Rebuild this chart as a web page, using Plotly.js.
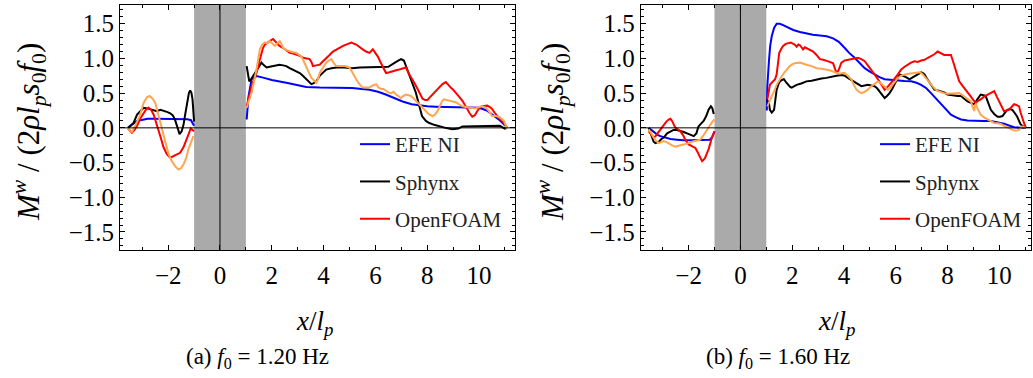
<!DOCTYPE html>
<html>
<head>
<meta charset="utf-8">
<script src="https://cdn.plot.ly/plotly-3.0.1.min.js"></script>
<style>html,body{margin:0;padding:0;background:#fff;}#plot{width:1033px;height:378px;}</style>
</head>
<body>
<div id="plot"></div>
<script>
// ---------- data: [x/l_p, M^w/(2 rho l_p s0 f0)] ----------
// Panel (a) f0 = 1.20 Hz
const a_efe_left = [[-3.55,0],[-3.4,0.05],[-3.2,0.10],[-3.0,0.12],[-2.8,0.13],[-2.5,0.13],[-2.0,0.13],[-1.5,0.13],[-1.25,0.125],[-1.12,0.11],[-1.05,0.07],[-1.0,0.03]];
const a_efe_right = [[1.03,0.12],[1.1,0.45],[1.22,0.70],[1.41,0.745],[1.7,0.72],[2.0,0.69],[2.56,0.65],[3.0,0.61],[3.33,0.59],[3.85,0.58],[4.5,0.578],[5.1,0.575],[5.77,0.55],[6.1,0.52],[6.4,0.48],[6.7,0.43],[7.05,0.38],[7.4,0.34],[7.7,0.32],[8.0,0.31],[8.33,0.305],[9.0,0.30],[9.6,0.30],[10.0,0.29],[10.3,0.25],[10.5,0.19],[10.8,0.11],[11.05,0.02]];
const a_sph_left = [[-3.55,0],[-3.35,0.06],[-3.2,0.19],[-3.05,0.26],[-2.95,0.29],[-2.8,0.28],[-2.69,0.27],[-2.55,0.25],[-2.44,0.24],[-2.3,0.26],[-2.18,0.25],[-2.05,0.23],[-1.92,0.21],[-1.82,0.18],[-1.73,0.11],[-1.64,0.0],[-1.56,-0.09],[-1.48,-0.05],[-1.41,0.04],[-1.34,0.2],[-1.28,0.36],[-1.2,0.5],[-1.15,0.54],[-1.1,0.5],[-1.06,0.41],[-1.0,0.09]];
const a_sph_right = [[1.03,0.89],[1.08,0.75],[1.13,0.67],[1.2,0.70],[1.3,0.76],[1.41,0.84],[1.5,0.90],[1.6,0.94],[1.7,0.90],[1.8,0.87],[1.92,0.88],[2.05,0.89],[2.18,0.90],[2.3,0.91],[2.44,0.90],[2.56,0.89],[2.69,0.86],[2.82,0.84],[2.95,0.81],[3.08,0.79],[3.2,0.75],[3.33,0.70],[3.45,0.66],[3.53,0.63],[3.6,0.64],[3.72,0.67],[3.85,0.75],[3.98,0.80],[4.1,0.84],[4.3,0.86],[4.5,0.87],[4.8,0.87],[5.1,0.86],[5.4,0.87],[5.77,0.87],[6.15,0.87],[6.5,0.88],[6.8,0.95],[6.99,0.99],[7.1,0.97],[7.18,0.89],[7.28,0.80],[7.37,0.72],[7.46,0.62],[7.56,0.51],[7.7,0.31],[7.8,0.17],[7.95,0.10],[8.08,0.07],[8.3,0.04],[8.46,0.02],[8.7,0.0],[8.97,-0.02],[9.2,-0.01],[9.36,0.02],[9.6,0.02],[10.0,0.03],[10.3,0.03],[10.5,0.02],[10.8,0.03],[11.0,-0.01],[11.08,0.0]];
const a_ofo_left = [[-3.55,-0.01],[-3.4,-0.07],[-3.3,-0.03],[-3.2,0.03],[-3.08,0.13],[-2.95,0.22],[-2.85,0.27],[-2.76,0.29],[-2.66,0.26],[-2.56,0.19],[-2.47,0.09],[-2.37,-0.02],[-2.28,-0.15],[-2.18,-0.28],[-2.05,-0.38],[-1.92,-0.43],[-1.8,-0.41],[-1.67,-0.38],[-1.54,-0.36],[-1.41,-0.28],[-1.28,-0.17],[-1.2,-0.08],[-1.13,-0.01],[-1.05,-0.03],[-1.0,-0.05]];
const a_ofo_right = [[1.03,0.31],[1.12,0.45],[1.22,0.60],[1.32,0.70],[1.41,0.79],[1.5,0.93],[1.6,1.08],[1.66,1.15],[1.73,1.20],[1.82,1.23],[1.92,1.25],[2.05,1.28],[2.18,1.23],[2.3,1.18],[2.44,1.15],[2.56,1.11],[2.69,1.08],[2.82,1.07],[2.95,1.06],[3.08,1.04],[3.2,1.01],[3.33,1.00],[3.46,0.99],[3.53,0.95],[3.59,0.89],[3.72,0.90],[3.85,0.91],[3.98,0.96],[4.1,1.01],[4.23,1.05],[4.36,1.10],[4.49,1.13],[4.62,1.15],[4.75,1.18],[4.87,1.20],[5.07,1.23],[5.26,1.20],[5.38,1.16],[5.51,1.13],[5.64,1.10],[5.77,1.08],[5.9,1.13],[6.0,1.08],[6.09,1.03],[6.18,0.96],[6.28,0.89],[6.41,0.79],[6.54,0.80],[6.67,0.82],[6.8,0.83],[6.92,0.84],[7.05,0.85],[7.18,0.87],[7.31,0.77],[7.4,0.72],[7.5,0.65],[7.6,0.58],[7.7,0.51],[7.82,0.42],[7.92,0.40],[8.01,0.40],[8.1,0.44],[8.2,0.48],[8.3,0.51],[8.4,0.55],[8.5,0.59],[8.59,0.63],[8.72,0.66],[8.8,0.62],[8.91,0.58],[9.0,0.55],[9.1,0.51],[9.23,0.45],[9.36,0.39],[9.45,0.33],[9.55,0.27],[9.64,0.21],[9.74,0.16],[9.84,0.18],[9.93,0.24],[10.03,0.29],[10.13,0.31],[10.22,0.32],[10.32,0.32],[10.42,0.30],[10.51,0.27],[10.6,0.22],[10.7,0.17],[10.8,0.13],[10.9,0.10],[11.0,0.05],[11.08,0.01]];
const a_alt_left = [[-3.55,-0.01],[-3.4,-0.06],[-3.25,0.05],[-3.1,0.17],[-2.95,0.36],[-2.82,0.44],[-2.72,0.46],[-2.6,0.42],[-2.5,0.36],[-2.4,0.22],[-2.31,0.07],[-2.2,-0.08],[-2.12,-0.21],[-2.0,-0.36],[-1.86,-0.48],[-1.72,-0.56],[-1.6,-0.60],[-1.5,-0.58],[-1.41,-0.53],[-1.3,-0.43],[-1.22,-0.31],[-1.12,-0.2],[-1.03,-0.12]];
const a_alt_right = [[1.03,0.29],[1.12,0.38],[1.22,0.51],[1.32,0.68],[1.41,0.84],[1.54,1.13],[1.63,1.2],[1.73,1.23],[1.82,1.22],[1.92,1.25],[2.02,1.22],[2.12,1.18],[2.22,1.22],[2.31,1.25],[2.38,1.2],[2.44,1.15],[2.56,1.12],[2.69,1.1],[2.82,1.09],[2.95,1.08],[3.05,1.06],[3.14,1.03],[3.22,0.97],[3.33,0.89],[3.43,0.80],[3.53,0.72],[3.62,0.68],[3.72,0.65],[3.8,0.72],[3.85,0.79],[3.98,0.87],[4.1,0.94],[4.2,0.97],[4.3,0.99],[4.4,0.93],[4.49,0.89],[4.65,0.89],[4.81,0.89],[5.0,0.87],[5.13,0.78],[5.26,0.70],[5.38,0.63],[5.51,0.58],[5.64,0.58],[5.77,0.58],[5.9,0.61],[6.03,0.63],[6.12,0.58],[6.22,0.56],[6.31,0.56],[6.41,0.53],[6.5,0.51],[6.6,0.50],[6.7,0.52],[6.8,0.48],[6.9,0.45],[6.99,0.43],[7.08,0.46],[7.18,0.48],[7.28,0.47],[7.37,0.46],[7.46,0.43],[7.56,0.39],[7.66,0.35],[7.76,0.31],[7.85,0.27],[7.95,0.24],[8.05,0.2],[8.2,0.17],[8.3,0.19],[8.4,0.24],[8.5,0.32],[8.58,0.39],[8.65,0.41],[8.75,0.40],[8.85,0.39],[8.97,0.38],[9.1,0.37],[9.23,0.34],[9.36,0.31],[9.5,0.30],[9.62,0.29],[9.75,0.28],[9.87,0.28],[10.0,0.30],[10.13,0.31],[10.22,0.30],[10.32,0.27],[10.42,0.22],[10.51,0.17],[10.64,0.17],[10.77,0.16],[10.87,0.13],[10.96,0.10],[11.03,0.04],[11.08,-0.01]];

// Panel (b) f0 = 1.60 Hz
const b_efe_left = [[-3.54,0],[-3.45,-0.03],[-3.35,-0.06],[-3.2,-0.10],[-3.09,-0.12],[-2.9,-0.14],[-2.7,-0.16],[-2.45,-0.17],[-2.19,-0.18],[-1.9,-0.18],[-1.68,-0.18],[-1.45,-0.18],[-1.29,-0.18],[-1.18,-0.17],[-1.1,-0.14],[-1.04,-0.09],[-1.0,-0.05]];
const b_efe_right = [[1.02,0.25],[1.04,0.6],[1.1,0.95],[1.15,1.18],[1.21,1.32],[1.3,1.44],[1.4,1.50],[1.52,1.50],[1.65,1.48],[1.85,1.44],[2.04,1.41],[2.3,1.38],[2.55,1.36],[2.8,1.34],[3.07,1.33],[3.33,1.32],[3.58,1.29],[3.8,1.24],[4.03,1.15],[4.2,1.08],[4.41,1.01],[4.6,0.93],[4.8,0.86],[5.0,0.81],[5.18,0.77],[5.37,0.73],[5.57,0.70],[5.8,0.69],[6.08,0.68],[6.33,0.675],[6.59,0.67],[6.8,0.65],[6.98,0.62],[7.18,0.57],[7.36,0.50],[7.55,0.42],[7.75,0.34],[7.95,0.26],[8.13,0.19],[8.33,0.15],[8.52,0.12],[8.77,0.105],[9.03,0.10],[9.35,0.10],[9.67,0.10],[9.93,0.08],[10.18,0.06],[10.4,0.03],[10.57,0.01],[10.8,0.0],[11.02,0.0]];
const b_sph_left = [[-3.54,0],[-3.45,-0.1],[-3.35,-0.2],[-3.28,-0.22],[-3.15,-0.2],[-3.05,-0.16],[-2.96,-0.14],[-2.83,-0.08],[-2.7,-0.05],[-2.58,-0.03],[-2.45,-0.03],[-2.32,-0.04],[-2.19,-0.06],[-2.06,-0.08],[-1.93,-0.10],[-1.8,-0.12],[-1.7,-0.08],[-1.62,0.02],[-1.52,0.06],[-1.42,0.10],[-1.32,0.17],[-1.23,0.26],[-1.14,0.31],[-1.08,0.28],[-1.03,0.2]];
const b_sph_right = [[1.02,0.41],[1.06,0.38],[1.1,0.36],[1.14,0.26],[1.21,0.22],[1.3,0.26],[1.36,0.42],[1.4,0.55],[1.47,0.63],[1.53,0.67],[1.6,0.69],[1.68,0.70],[1.76,0.66],[1.85,0.62],[1.92,0.59],[1.98,0.58],[2.08,0.60],[2.17,0.62],[2.35,0.64],[2.55,0.67],[2.75,0.68],[2.94,0.70],[3.13,0.71],[3.32,0.72],[3.52,0.74],[3.71,0.75],[3.9,0.76],[4.03,0.75],[4.15,0.72],[4.28,0.69],[4.41,0.65],[4.54,0.62],[4.67,0.60],[4.8,0.61],[4.92,0.62],[5.05,0.61],[5.18,0.60],[5.28,0.57],[5.37,0.53],[5.47,0.47],[5.57,0.43],[5.66,0.46],[5.76,0.50],[5.86,0.56],[5.95,0.62],[6.05,0.70],[6.14,0.77],[6.24,0.76],[6.34,0.74],[6.44,0.72],[6.53,0.70],[6.62,0.72],[6.72,0.74],[6.85,0.77],[6.98,0.80],[7.05,0.79],[7.11,0.77],[7.2,0.71],[7.3,0.65],[7.4,0.59],[7.49,0.55],[7.62,0.54],[7.75,0.53],[7.87,0.51],[8.0,0.48],[8.13,0.47],[8.26,0.46],[8.39,0.46],[8.52,0.46],[8.65,0.42],[8.77,0.38],[8.9,0.36],[9.03,0.34],[9.15,0.41],[9.28,0.48],[9.38,0.47],[9.47,0.46],[9.57,0.36],[9.67,0.26],[9.8,0.20],[9.93,0.16],[10.03,0.16],[10.12,0.17],[10.22,0.22],[10.31,0.26],[10.4,0.27],[10.5,0.26],[10.6,0.21],[10.69,0.16],[10.76,0.10],[10.82,0.05],[10.92,0.02],[11.02,0.0]];
const b_ofo_left = [[-3.54,-0.05],[-3.45,-0.1],[-3.35,-0.14],[-3.28,-0.12],[-3.15,-0.05],[-3.05,0.0],[-2.96,0.05],[-2.86,0.09],[-2.77,0.12],[-2.7,0.13],[-2.64,0.1],[-2.57,0.05],[-2.51,0.0],[-2.42,-0.02],[-2.32,-0.05],[-2.22,-0.1],[-2.13,-0.17],[-2.0,-0.24],[-1.87,-0.26],[-1.74,-0.29],[-1.68,-0.33],[-1.62,-0.38],[-1.55,-0.43],[-1.48,-0.48],[-1.42,-0.46],[-1.36,-0.43],[-1.3,-0.37],[-1.23,-0.31],[-1.16,-0.22],[-1.1,-0.14],[-1.0,-0.05]];
const b_ofo_right = [[1.04,0.41],[1.09,0.55],[1.14,0.62],[1.21,0.65],[1.28,0.67],[1.34,0.70],[1.4,0.77],[1.45,0.92],[1.5,1.08],[1.58,1.14],[1.65,1.18],[1.75,1.21],[1.85,1.22],[1.95,1.23],[2.04,1.21],[2.1,1.2],[2.17,1.17],[2.24,1.2],[2.3,1.19],[2.36,1.15],[2.42,1.13],[2.49,1.16],[2.55,1.15],[2.68,1.12],[2.81,1.10],[2.94,1.05],[3.07,0.99],[3.2,0.98],[3.32,0.97],[3.45,0.95],[3.58,0.93],[3.64,0.87],[3.7,0.80],[3.78,0.82],[3.9,0.94],[4.03,0.97],[4.15,0.98],[4.28,0.99],[4.41,1.00],[4.54,1.01],[4.67,0.99],[4.8,0.96],[4.92,0.90],[5.05,0.84],[5.18,0.77],[5.31,0.70],[5.44,0.62],[5.57,0.55],[5.66,0.58],[5.76,0.62],[5.89,0.68],[6.02,0.74],[6.11,0.79],[6.21,0.84],[6.34,0.88],[6.46,0.91],[6.59,0.94],[6.72,0.96],[6.85,0.95],[6.98,0.97],[7.11,0.98],[7.24,1.01],[7.36,1.03],[7.49,1.06],[7.62,1.10],[7.75,1.08],[7.87,1.05],[8.0,1.05],[8.13,1.05],[8.2,0.97],[8.26,0.89],[8.36,0.78],[8.45,0.67],[8.55,0.62],[8.64,0.58],[8.77,0.51],[8.9,0.45],[9.0,0.40],[9.09,0.36],[9.18,0.39],[9.28,0.41],[9.41,0.45],[9.54,0.48],[9.67,0.51],[9.8,0.53],[9.9,0.45],[9.99,0.38],[10.09,0.31],[10.18,0.24],[10.27,0.25],[10.37,0.26],[10.47,0.30],[10.57,0.34],[10.66,0.33],[10.76,0.31],[10.82,0.22],[10.88,0.14],[10.95,0.07],[11.02,0.01]];
const b_alt_left = [[-3.54,-0.02],[-3.48,-0.05],[-3.41,-0.1],[-3.35,-0.14],[-3.25,-0.19],[-3.15,-0.22],[-3.05,-0.2],[-2.96,-0.19],[-2.83,-0.21],[-2.7,-0.24],[-2.6,-0.26],[-2.51,-0.27],[-2.38,-0.26],[-2.25,-0.25],[-2.12,-0.23],[-2.0,-0.22],[-1.87,-0.2],[-1.74,-0.19],[-1.64,-0.18],[-1.55,-0.17],[-1.45,-0.12],[-1.36,-0.07],[-1.26,0.0],[-1.16,0.05],[-1.08,0.09],[-1.0,0.12]];
const b_alt_right = [[1.04,0.31],[1.09,0.35],[1.14,0.38],[1.21,0.44],[1.28,0.50],[1.34,0.56],[1.4,0.62],[1.5,0.69],[1.59,0.74],[1.68,0.79],[1.78,0.84],[1.88,0.88],[1.98,0.91],[2.1,0.93],[2.3,0.94],[2.42,0.93],[2.55,0.91],[2.75,0.89],[2.94,0.86],[3.13,0.85],[3.32,0.84],[3.45,0.83],[3.58,0.81],[3.7,0.79],[3.83,0.78],[3.95,0.79],[4.03,0.79],[4.15,0.75],[4.28,0.70],[4.38,0.62],[4.48,0.55],[4.58,0.52],[4.67,0.50],[4.8,0.52],[4.92,0.55],[5.02,0.59],[5.12,0.62],[5.22,0.65],[5.31,0.67],[5.4,0.65],[5.5,0.62],[5.6,0.58],[5.7,0.55],[5.8,0.58],[5.89,0.62],[5.98,0.67],[6.08,0.72],[6.2,0.75],[6.34,0.77],[6.5,0.78],[6.66,0.79],[6.8,0.80],[6.92,0.80],[7.02,0.78],[7.11,0.74],[7.24,0.68],[7.36,0.62],[7.49,0.57],[7.62,0.53],[7.75,0.51],[7.87,0.50],[8.0,0.49],[8.13,0.49],[8.3,0.50],[8.45,0.50],[8.58,0.47],[8.71,0.43],[8.8,0.41],[8.9,0.38],[8.97,0.30],[9.03,0.24],[9.06,0.33],[9.09,0.34],[9.18,0.26],[9.28,0.19],[9.41,0.15],[9.54,0.12],[9.67,0.09],[9.8,0.07],[9.93,0.065],[10.05,0.06],[10.18,0.03],[10.31,0.01],[10.44,-0.02],[10.57,-0.04],[10.66,-0.04],[10.76,-0.03],[10.82,0.0],[10.88,0.02],[10.95,0.01],[11.02,0.0]];

const seriesNames = ['EFE NI', 'Sphynx', 'OpenFOAM', ''];
const xTickVals = [-2, 0, 2, 4, 6, 8, 10];
const yTickVals = [-1.5, -1.0, -0.5, 0.0, 0.5, 1.0, 1.5];
const panelCaptions = ['(a) <i>f</i><sub>0</sub> = 1.20 Hz', '(b) <i>f</i><sub>0</sub> = 1.60 Hz'];

// ---------- build ----------
const W = 1033, H = 378;
const FONT = 'Liberation Serif';
const colors = ['#0000ff', '#000000', '#ff0000', '#ffa54f'];

function joinSeg(left, right) {
  const x = [], y = [];
  left.forEach(p => { x.push(p[0]); y.push(p[1]); });
  x.push(null); y.push(null);
  right.forEach(p => { x.push(p[0]); y.push(p[1]); });
  return {x, y};
}

const panels = [
  {xa: 'x', ya: 'y', leg: 'legend', sets: [[a_efe_left, a_efe_right],[a_sph_left, a_sph_right],[a_ofo_left, a_ofo_right],[a_alt_left, a_alt_right]]},
  {xa: 'x2', ya: 'y2', leg: 'legend2', sets: [[b_efe_left, b_efe_right],[b_sph_left, b_sph_right],[b_ofo_left, b_ofo_right],[b_alt_left, b_alt_right]]}
];

const traces = [];
panels.forEach((p, pi) => {
  p.sets.forEach((s, si) => {
    const d = joinSeg(s[0], s[1]);
    traces.push({
      type: 'scatter', mode: 'lines', x: d.x, y: d.y,
      xaxis: p.xa, yaxis: p.ya,
      name: seriesNames[si] || 'series 4',
      showlegend: si < 3,
      legend: p.leg,
      legendgroup: 'g' + pi + '_' + si,
      line: {color: colors[si], width: 2},
      connectgaps: false,
      hoverinfo: 'skip'
    });
  });
});

function axisBase() {
  return {
    showline: true, linecolor: '#000', linewidth: 1, mirror: 'allticks',
    ticks: 'inside', ticklen: 5, tickwidth: 1, tickcolor: '#000',
    showgrid: false, zeroline: false,
    tickfont: {family: FONT, size: 25, color: '#000'}
  };
}

const yDom = [1 - 250 / H, 1 - 5 / H];
const legendBase = {xanchor: 'left', yanchor: 'top', bgcolor: 'rgba(0,0,0,0)', font: {family: FONT, size: 21, color: '#222'}, traceorder: 'grouped', tracegroupgap: 7, itemwidth: 30};
const xMinor = {dtick: 1, tick0: 0, ticks: 'inside', ticklen: 3, tickcolor: '#000'};
const yMinor = {dtick: 0.1, tick0: 0, ticks: 'inside', ticklen: 3, tickcolor: '#000'};
const layout = {
  width: W, height: H,
  margin: {l: 0, r: 0, t: 0, b: 0},
  paper_bgcolor: '#fff', plot_bgcolor: '#fff',
  showlegend: true,
  xaxis: Object.assign(axisBase(), {domain: [120 / W, 515 / W], range: [-3.86, 11.39], anchor: 'y', tickvals: xTickVals, ticklabelstandoff: 3, minor: Object.assign({}, xMinor)}),
  yaxis: Object.assign(axisBase(), {domain: yDom, range: [-1.76, 1.77], anchor: 'x', tickvals: yTickVals, tickformat: '.1f', minor: Object.assign({}, yMinor)}),
  xaxis2: Object.assign(axisBase(), {domain: [640.7 / W, 1030.7 / W], range: [-3.85, 11.21], anchor: 'y2', tickvals: xTickVals, ticklabelstandoff: 3, minor: Object.assign({}, xMinor)}),
  yaxis2: Object.assign(axisBase(), {domain: yDom, range: [-1.76, 1.77], anchor: 'x2', tickvals: yTickVals, tickformat: '.1f', minor: Object.assign({}, yMinor)}),
  legend: Object.assign({x: 355 / W, y: 1 - 124 / H}, legendBase),
  legend2: Object.assign({x: 875 / W, y: 1 - 124 / H}, JSON.parse(JSON.stringify(legendBase))),
  shapes: [],
  annotations: []
};

[['x', 'y'], ['x2', 'y2']].forEach(([xa, ya]) => {
  layout.shapes.push({type: 'rect', xref: xa, yref: ya + ' domain', x0: -1, x1: 1, y0: 0, y1: 1, fillcolor: '#aaaaaa', line: {width: 0}, layer: 'below'});
  layout.shapes.push({type: 'line', xref: xa + ' domain', yref: ya, x0: 0, x1: 1, y0: 0, y1: 0, line: {color: '#000', width: 1}, layer: 'above'});
  layout.shapes.push({type: 'line', xref: xa, yref: ya + ' domain', x0: 0, x1: 0, y0: 0, y1: 1, line: {color: '#000', width: 1}, layer: 'above'});
});

const yTitle = '<i>M</i><sup><i>w</i></sup> / (2<i>ρl</i><sub><i>p</i></sub><i>s</i><sub>0</sub><i>f</i><sub>0</sub>)';
const xTitle = '<i>x</i>/<i>l</i><sub><i>p</i></sub>';
function ann(text, px, py, size, angle) {
  return {text, xref: 'paper', yref: 'paper', x: px / W, y: 1 - py / H, xanchor: 'center', yanchor: 'middle', showarrow: false, textangle: angle || 0, font: {family: FONT, size, color: '#000'}};
}
layout.annotations.push(ann(yTitle, 29, 132, 31, -90));
layout.annotations.push(ann(yTitle, 553, 132, 31, -90));
layout.annotations.push(ann(xTitle, 314, 323, 27));
layout.annotations.push(ann(xTitle, 836, 323, 27));
layout.annotations.push(ann(panelCaptions[0], 257, 358, 23));
layout.annotations.push(ann(panelCaptions[1], 778, 358, 23));

Plotly.newPlot('plot', traces, layout, {displayModeBar: false});
</script>
</body>
</html>
